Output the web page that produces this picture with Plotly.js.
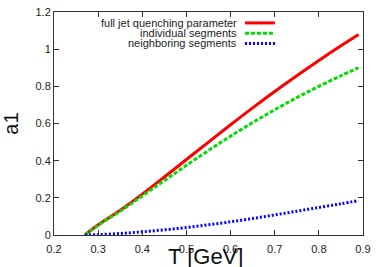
<!DOCTYPE html>
<html>
<head>
<meta charset="utf-8">
<script src="https://cdn.plot.ly/plotly-3.0.1.min.js"></script>
<style>
  html, body { margin: 0; padding: 0; background: white; }
  #chart { width: 382px; height: 267px; }
</style>
</head>
<body>
<div id="chart"></div>
<script>
// temperature grid [GeV]
const T = [0.27, 0.30, 0.35, 0.40, 0.45, 0.50, 0.55, 0.60, 0.65, 0.70, 0.75, 0.80, 0.85, 0.89];

// a1 values
const fullJet     = [0.0, 0.055, 0.133, 0.220, 0.312, 0.406, 0.500, 0.593, 0.684, 0.772, 0.857, 0.939, 1.018, 1.079];
const individual  = [0.0, 0.052, 0.128, 0.210, 0.293, 0.375, 0.455, 0.532, 0.605, 0.674, 0.739, 0.800, 0.857, 0.900];
const neighboring = [0.0, 0.002, 0.008, 0.017, 0.028, 0.040, 0.055, 0.071, 0.089, 0.108, 0.128, 0.148, 0.168, 0.185];

const seriesNames = ['full jet quenching parameter', 'individual segments', 'neighboring segments'];
const seriesColors = ['#ff0000', '#00dd00', '#0000ff'];
const seriesDash = ['solid', '4px,2px', '2px,2px'];

const xTicks = [0.2, 0.3, 0.4, 0.5, 0.6, 0.7, 0.8, 0.9];
const yTicks = [0, 0.2, 0.4, 0.6, 0.8, 1, 1.2];

const font = '"Liberation Sans", Arial, sans-serif';

function makeTraces() {
    const ys = [fullJet, individual, neighboring];
    return ys.map((y, i) => ({
        x: T,
        y: y,
        type: 'scatter',
        mode: 'lines',
        name: seriesNames[i],
        showlegend: false,
        line: { color: seriesColors[i], width: 3, dash: seriesDash[i], shape: 'spline' }
    }));
}

// gnuplot-style key: text right aligned, sample line to its right
function makeKey() {
    const annotations = [];
    const shapes = [];
    const rowsY = [0.951, 0.905, 0.859];
    seriesNames.forEach((name, i) => {
        annotations.push({
            xref: 'paper', yref: 'paper',
            x: 0.597, y: rowsY[i],
            xanchor: 'right', yanchor: 'middle',
            borderpad: 0,
            text: name, showarrow: false,
            font: { family: font, size: 11, color: '#222' }
        });
        shapes.push({
            type: 'line', xref: 'paper', yref: 'paper',
            x0: 0.618, x1: 0.715, y0: rowsY[i], y1: rowsY[i],
            line: { color: seriesColors[i], width: 3, dash: seriesDash[i] }
        });
    });
    // x axis title sits low, close to the bottom edge as in the original
    annotations.push({
        xref: 'paper', yref: 'paper',
        x: 0.49, y: -0.034,
        xanchor: 'center', yanchor: 'top',
        borderpad: 0,
        text: 'T [GeV]', showarrow: false,
        font: { family: font, size: 22, color: '#111' }
    });
    return { annotations, shapes };
}

const key = makeKey();

const layout = {
    width: 382,
    height: 267,
    margin: { l: 54, r: 19, t: 12, b: 32 },
    paper_bgcolor: 'white',
    plot_bgcolor: 'white',
    font: { family: font, size: 11, color: '#222' },
    xaxis: {
        range: [0.2, 0.9],
        tickvals: xTicks,
        ticktext: xTicks.map(v => v.toString()),
        ticks: 'inside',
        ticklen: 5,
        tickcolor: '#333',
        ticklabelstandoff: 4,
        showline: true,
        linecolor: '#333',
        linewidth: 1,
        mirror: 'ticks',
        showgrid: false,
        zeroline: false
    },
    yaxis: {
        range: [0, 1.2],
        tickvals: yTicks,
        ticktext: yTicks.map(v => v.toString()),
        ticks: 'inside',
        ticklen: 5,
        tickcolor: '#333',
        showline: true,
        linecolor: '#333',
        linewidth: 1,
        mirror: 'ticks',
        showgrid: false,
        zeroline: false,
        title: { text: 'a1', font: { family: font, size: 20, color: '#111' }, standoff: 14 }
    },
    annotations: key.annotations,
    shapes: key.shapes
};

Plotly.newPlot('chart', makeTraces(), layout, { displayModeBar: false, staticPlot: true });
</script>
</body>
</html>
